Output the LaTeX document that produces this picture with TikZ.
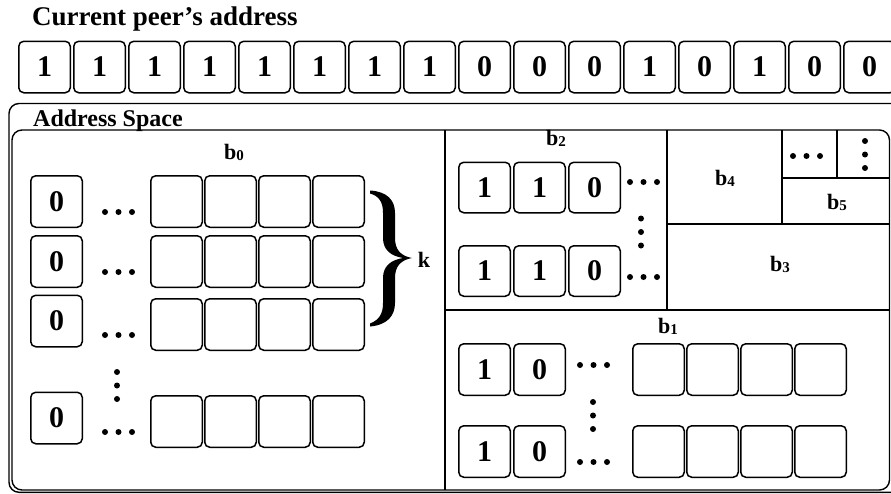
\documentclass[tikz,border=0pt]{standalone}
\usepackage{fontspec}
\setmainfont{Liberation Serif}
\newcommand\mybsub[1]{b\raisebox{-1.5pt}{\fontsize{15}{15}\selectfont #1}}
\tikzset{
  cell/.style={draw, line width=1.5pt, rounded corners=5pt, minimum width=51.5pt, minimum height=51.5pt, inner sep=0pt, font=\fontsize{30}{30}\selectfont\bfseries},
  lab/.style={anchor=base, inner sep=0pt, font=\fontsize{22}{22}\selectfont\bfseries},
  frame/.style={draw, line width=1.4pt, rounded corners=10pt},
  divider/.style={line width=1.3pt},
  dotfill/.style={fill=black}
}
\begin{document}
\begin{tikzpicture}[x=1pt,y=-1pt]
\useasboundingbox (0,0) rectangle (891,493);
\clip (0,0) rectangle (891,493);
% title
\node[anchor=base west, inner sep=0pt, font=\fontsize{27}{27}\selectfont\bfseries] (title) at (32,25) {Current peer’s address};
% top row
\foreach \d [count=\i] in {1,1,1,1,1,1,1,1,0,0,0,1,0,1,0,0}
  \node[cell] (t\i) at ({44.5+55*(\i-1)},67) {\d};
% frames
\draw[frame] (9,103.5) rectangle (915,492.3);
\draw[frame] (12,130) rectangle (889.5,490);
\node[anchor=base west, inner sep=0pt, font=\fontsize{24}{24}\selectfont\bfseries] (astitle) at (33,126) {Address Space};
% dividers
\draw[divider] (445,130) -- (445,490);
\draw[divider] (445,310) -- (889.5,310);
\draw[divider] (667,130) -- (667,310);
\draw[divider] (667,224) -- (889.5,224);
\draw[divider] (782,130) -- (782,224);
\draw[divider] (782,178) -- (889.5,178);
\draw[divider] (837,130) -- (837,178);
% b0 region
\node[lab] (lb0) at (234,159) {\mybsub{0}};
\foreach \y/\ye [count=\r] in {201.5/201.5, 261.5/261.5, 321/324.5, 418/421.5} {
  \node[cell] (z\r) at (56.5,\y) {0};
  \foreach \x [count=\c] in {176.5,230.5,284.5,338.5}
    \node[cell] (e\r\c) at (\x,\ye) {};
}
\foreach \y in {212,272,335,432}
  \foreach \dx in {-13.5,0,13.5}
    \fill[dotfill] ({118.5+\dx},\y) circle (3pt);
\foreach \dy in {-13.5,0,13.5}
  \fill[dotfill] (117,{385.5+\dy}) circle (3pt);
% brace and k
\fill (370,190.5) .. controls (387,191.5) and (395,200) .. (395,213) -- (395,238)
  .. controls (395,250) and (401,256) .. (412,258)
  .. controls (401,260) and (395,266) .. (395,278) -- (395,303)
  .. controls (395,316) and (387,325) .. (370,326.5)
  -- (370,323.5) .. controls (379,320) and (383,314) .. (383,303) -- (383,278)
  .. controls (383,266) and (391,260) .. (403,258)
  .. controls (391,256) and (383,250) .. (383,238) -- (383,213)
  .. controls (383,202) and (379,196) .. (370,193.5) -- cycle;
\node[lab] (k) at (424,267) {k};
% b2 region
\node[lab] (lb2) at (556,145) {\mybsub{2}};
\foreach \y [count=\r] in {187.5,271} {
  \foreach \x/\d [count=\c] in {484.5/1,539.5/1,594.5/0}
    \node[cell, minimum height=50.5pt] (p\r\c) at (\x,\y) {\d};
}
\foreach \y in {182,277}
  \foreach \dx in {-13.5,0,13.5}
    \fill[dotfill] ({643.5+\dx},\y) circle (3pt);
\foreach \dy in {-13.5,0,13.5}
  \fill[dotfill] (641,{232+\dy}) circle (3pt);
% b3, b4, b5
\node[lab] (lb4) at (725,185) {\mybsub{4}};
\node[lab] (lb5) at (837,209) {\mybsub{5}};
\node[lab] (lb3) at (780,271) {\mybsub{3}};
\foreach \dx in {-13.5,0,13.5}
  \fill[dotfill] ({806.5+\dx},156) circle (3pt);
\foreach \dy in {-13.5,0,13.5}
  \fill[dotfill] (865,{154.5+\dy}) circle (3pt);
% b1 region
\node[lab] (lb1) at (668,333) {\mybsub{1}};
\foreach \y [count=\r] in {369.5,451.5} {
  \node[cell] (q\r1) at (484.5,\y) {1};
  \node[cell] (q\r2) at (539.5,\y) {0};
  \foreach \x [count=\c] in {658.5,712.5,766.5,820.5}
    \node[cell] (f\r\c) at (\x,\y) {};
}
\foreach \y in {365,462}
  \foreach \dx in {-13.5,0,13.5}
    \fill[dotfill] ({593.5+\dx},\y) circle (3pt);
\foreach \dy in {-13.5,0,13.5}
  \fill[dotfill] (593,{415.5+\dy}) circle (3pt);
\end{tikzpicture}
\end{document}
